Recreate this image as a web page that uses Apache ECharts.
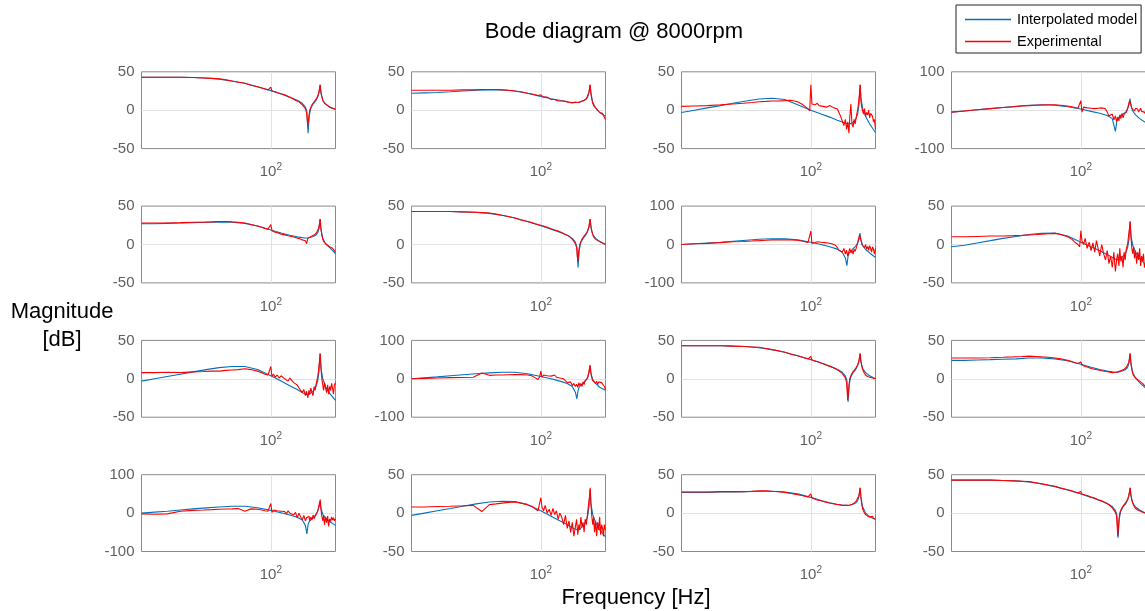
<!DOCTYPE html>
<html>
<head>
<meta charset="utf-8">
<script src="https://cdn.jsdelivr.net/npm/echarts@6/dist/echarts.min.js"></script>
<style>
  html, body { margin: 0; padding: 0; background: #fff; }
  #chart { width: 1145px; height: 611px; }
</style>
</head>
<body>
<div id="chart"></div>
<script>
// Frequency grids [Hz]
const freqModel = [10, 12.6, 15.8, 20, 25, 31.6, 39.8, 50, 63, 79, 100, 120, 140, 160, 175, 185, 190, 194, 198, 203, 212, 222, 230, 236, 240, 244, 252, 265, 285, 316.2];
const freqExp = [10, 12.6, 15.8, 20, 25, 30, 35, 40, 45, 50, 56, 63, 70, 79, 85, 90, 95, 98, 100, 102,
  105, 108, 112, 116, 120, 124, 128, 132, 136, 140, 145, 150, 155, 160, 165, 170, 175, 180, 185, 189,
  193, 197, 200, 204, 208, 212, 216, 220, 225, 230, 234, 238, 241, 244, 248, 252, 256, 260, 265, 270,
  275, 280, 285, 290, 295, 300, 305, 310, 316.2];

// Interpolated model magnitude [dB], one array per transfer path (row, column)
const modelR1C1 = [43,43,43,43,42.5,42,40.5,38,35,30.5,25.5,21,17,13,9,4,-2,-30,-8,2,8,12,17,23,33,22,13,8,4,1];
const modelR1C2 = [22,22.5,23,24,25,26,26.5,26.5,25,22,18,15,13,11,10,10,10,10,10.5,11,12,14,17,23,33,22,10,3,-3,-8];
const modelR1C3 = [-3,0,3,6,9,12,14.5,15.5,14,7,0,-5,-9,-13,-15.5,-17,-17.5,-18,-18,-17.5,-16,-12,-5,8,33,15,2,-8,-18,-29];
const modelR1C4 = [-5,-2,1,4,7,10,13,14,13,9,3,-3,-8,-14,-22,-55,-28,-20,-17,-14,-10,-5,3,15,30,12,-2,-12,-22,-32];
const modelR2C1 = [27,27,27.5,28,28.5,29,29.5,29,27.5,24,19,15,12,10,9,8.5,8.5,8.5,9,9.5,10.5,12,15,21,33,20,8,1,-4,-12];
const modelR2C2 = [43,43,43,43,42.5,42,40.5,38,34.5,30,24.5,20,16,12,8,3,-3,-30,-8,2,8,12,17,23,33,22,13,8,4,0];
const modelR2C3 = [0,2,4,6,8.5,11,13.5,15,15,12,6,0,-6,-12,-20,-35,-55,-30,-22,-17,-11,-5,3,14,30,12,-3,-13,-22,-34];
const modelR2C4 = [-3,-1,2,5,8,10.5,13,14.5,15,11,3,-3,-8,-13,-17,-19,-20,-20,-19.5,-18,-15,-11,-4,8,30,12,-1,-10,-18,-26];
const modelR3C1 = [-3,0,3,6,9,12,14.5,16,16,12,4,-3,-9,-14,-18,-20,-21,-21,-20.5,-19,-16,-11,-3,10,33,14,0,-10,-19,-28];
const modelR3C2 = [0,2.5,5,8,10.5,13,15.5,17,17,13,6,0,-6,-12,-20,-35,-52,-30,-22,-17,-11,-5,4,16,35,14,-2,-12,-22,-30];
const modelR3C3 = [43,43,43,43,42.5,42,40.5,38,34.5,30,25,20.5,16.5,12.5,8.5,3.5,-2,-30,-8,2,8,12,17,23,33,22,13,8,4,0];
const modelR3C4 = [24,24,24.5,25,25.5,26,27,27,26,23.5,19,15,12,10,9,8.5,8.5,8.5,9,9.5,10.5,12,15,21,33,20,8,1,-5,-12];
const modelR4C1 = [0,2.5,5,8,11,13.5,16,18,18,14,7,1,-5,-11,-18,-32,-54,-30,-22,-17,-11,-5,4,16,30,12,-3,-13,-22,-32];
const modelR4C2 = [-3,0,3,6,9,12,14.5,15.5,15,11,3,-4,-10,-15,-19,-21,-22,-22,-21,-20,-17,-12,-4,9,31,12,-2,-12,-22,-31];
const modelR4C3 = [27,27,27,27.5,27.5,28,28.5,28.5,27.5,25,20.5,16.5,13.5,11.5,10.5,10,10,10,10,10.5,11.5,13,16,22,33,20,8,0,-5,-8];
const modelR4C4 = [43,43,43,43,42.5,42,40.5,38,34.5,30,25,20.5,16.5,12.5,8.5,3.5,-2,-32,-8,2,8,12,17,23,33,22,13,8,4,0];

// Measured magnitude [dB] on freqExp
const expR1C1 = [43,43,43,43,42.5, 42,41.5,41,39.5,38, 36.5,35,32.5,30.5,29, 27.5,26.5,26,30,25,
  24.5,24,23,22,21.5, 20.5,20,19,18,17.5, 16,14,13,12.5,11, 9,7,5,2,-3,
  -20,-8,0,4,7, 9,11,13,15,18, 22,28,33,24,18, 13,11,9,8,7, 6,5,5,4,3, 3,2,2,1];
const expR1C2 = [26,26,26,26,26.5, 26.5,27,27,27,26.5, 26,25,24,22,21, 20,19,18.5,20,18,
  17,16,17,15,14, 12,14,13,12,13, 12,11,11.5,10,10, 11,9.5,10,10.5,10,
  10,11,10.5,11,12, 12.5,13,14,15,17, 22,28,33,22,14, 9,6,4,3,1, 0,-2,-3,-1,-5, -4,-7,-5,-12];
const expR1C3 = [5,5.5,6,7,8, 9,10,11,11.5,12, 12,12.5,13,11,8, 5,2,-1,33,8,
  10,7,9,6,8, 5,6,4,5,6, 5,3,4,2,-3, -8,-14,-20,-12,-25,
  -15,-30,-10,8,-18, -22,-12,-18,-8,0, 10,22,33,12,3, -2,-5,2,-8,-3, -6,0,-10,-4,-2, -8,-15,-12,-25];
const expR1C4 = [-5,-2,1,4,7, 9,11,12,13,13.5, 14,14,13,11,9, 7,5,4,25,-5,
  8,4,6,3,5, 7,4,8,5,3, 6,2,4,-5,-15, -20,-10,-25,-15,-30,
  -18,-28,-12,-22,-8, -20,-10,-15,-5,5, 15,25,30,15,5, 0,8,-2,5,0, 3,-5,0,5,-3, -2,-8,-5,-10];
const expR2C1 = [28,28,28,28.5,29, 29,29.5,30,30,29.5, 29,28,26,24,22.5, 21,20,19,26,18,
  17,16,15.5,14,13.5, 13,12.5,12,11.5,11, 10.5,10,9,10,8, 9,6,8,5,1,
  8,9,9.5,10,11, 11.5,12.5,13,15,17, 21,27,33,20,12, 7,4,2,1,0, -1,-2,-3,-2,-4, -5,-6,-8,-10];
const expR2C2 = [43,43,43,43,42.5, 42,41.5,41,39.5,38, 36.5,34.5,32,30,28.5, 27,26,25.5,25,24.5,
  24,23,22.5,21.5,20.5, 19.5,19,18,17.5,16.5, 15.5,14,13,12,11, 9,7,5,1,-4,
  -22,-7,0,4,7, 9,11,13,15,18, 22,28,33,24,17, 13,10,9,7,6, 5,5,4,3,3, 2,2,1,0];
const expR2C3 = [0,2,3,5,7, 8,9,10,11,12, 12,12.5,12,11,9, 7,5,4,35,3,
  8,5,7,4,6, 3,5,8,4,6, 2,5,-2,-8,-15, -12,-20,-10,-25,-15,
  -30,-18,-10,-22,-15, -25,-12,-18,-8,5, 15,25,30,12,0, -5,3,-8,0,-12, -5,-15,-3,-10,-20, -6,-12,-25,-10];
const expR2C4 = [10,10,10.5,11,11, 11.5,12,12.5,13,13.5, 14,14.5,13,10,7, 3,0,-3,18,5,
  0,8,-5,3,-8, 2,-10,5,-5,-15, 0,-12,-20,-8,-25, -15,-30,-10,-35,-20,
  -12,-28,-5,-22,-15, -30,-10,-20,-5,0, 12,22,30,10,-5, -12,-3,-18,-8,-25, -10,-20,-5,-28,-15, -22,-12,-30,-25];
const expR3C1 = [8,8,8.5,8,9, 9.5,10,10,11,11.5, 12,13,12,10,8, 6,5,4,16,3,
  6,2,5,1,4, 3,0,2,-3,1, -2,-5,-3,-8,-12, -10,-18,-14,-22,-16,
  -25,-15,-20,-12,-18, -22,-10,-15,-5,2, 12,24,33,15,0, -8,-15,-5,-12,-18, -8,-20,-10,-15,-6, -12,-20,-8,-5];
const expR3C2 = [0,1,2,3,3.5, 4,15,9,10,10, 10.5,11,11,10,8, 3,-2,5,20,4,
  10,6,8,3,7, 5,10,4,6,2, 4,0,-5,-10,-15, -8,-18,-12,-20,-14,
  -22,-10,-18,-12,-20, -8,-15,-5,-10,2, 15,28,35,14,2, -5,-10,-3,-12,-6, -15,-8,-12,-5,-10, -15,-8,-20,-28];
const expR3C3 = [43,43,43,43,42.5, 42,41.5,41,39.5,38, 36.5,34.5,32,30,28.5, 27,26,25,29,24.5,
  24,23,22.5,21.5,20.5, 19.5,19,18,17,16.5, 15.5,14,13,12,10.5, 9,7,5,1,-5,
  -28,-9,0,4,7, 9,11,13,15,18, 22,28,33,23,16, 12,9,7,5,4, 3,3,2,1,2, 1,0,1,0];
const expR3C4 = [27,27,27,27.5,28, 28.5,29,29.5,29,28.5, 28,27,26,24,22.5, 21,20,19,22,18,
  17,16,15.5,14,13.5, 13,12.5,12,11.5,11, 10.5,10,9.5,9,9, 8.5,8,8,8.5,9,
  9,9.5,10,10.5,11, 11.5,12.5,13,15,17, 21,27,33,20,12, 7,4,2,1,0, -1,-2,-3,-4,-5, -6,-7,-8,-10];
const expR4C1 = [-2,-3,-2,5,7, 8,9,10,10.5,11, 12,5,11,10,8, 6,5,4,25,2,
  8,4,6,2,5, 0,4,-2,6,0, 3,-5,2,-12,0, -10,-18,-6,-20,-12,
  -15,-8,-20,-10,-18, -5,-15,-8,-2,5, 15,28,35,10,-8, -20,-5,-30,-10,-25, -8,-35,-15,-22,-10, -18,-12,-20,-15];
const expR4C2 = [8,8,8.5,9,9.5, 10,2,11,12,13, 14,14.5,13,11,9, 6,3,2,20,8,
  3,10,0,5,-3, 6,-2,3,-8,0, -5,-15,-3,-20,-10, -25,-12,-30,-18,-8,
  -28,-15,-22,-5,-18, -12,-25,-8,-15,0, 12,22,33,12,-5, -15,-5,-25,-10,-30, -12,-22,-5,-28,-15, -20,-30,-15,-22];
const expR4C3 = [27.5,27.5,27.5,28,28, 28,28.5,29,29,28.5, 28,27,25.5,24,23, 22,21,20.5,25,20,
  19,18,17,16.5,16, 15,14.5,14,13.5,13, 12.5,12,11.5,11,11, 10.5,10,10,10,10,
  10,10.5,10.5,11,11.5, 12,13,14,16,18, 22,27,33,20,10, 5,2,0,-2,-3, -4,-2,-5,-3,-6, -4,-7,-5,-8];
const expR4C4 = [43,43,43,43,42.5, 42,41.5,41,39.5,38, 36.5,35,32.5,30.5,29, 27.5,26.5,25.5,28,25,
  24.5,23.5,23,22,21, 20,19.5,18.5,17.5,17, 16,14.5,13.5,12.5,11, 9,7,5,1,-4,
  -30,-9,0,4,7, 9,11,13,15,18, 22,28,33,24,17, 13,10,8,6,5, 4,4,3,2,2, 1,1,0,0];

// Panel order: row by row, left to right
const modelCurves = [modelR1C1, modelR1C2, modelR1C3, modelR1C4, modelR2C1, modelR2C2, modelR2C3, modelR2C4,
  modelR3C1, modelR3C2, modelR3C3, modelR3C4, modelR4C1, modelR4C2, modelR4C3, modelR4C4];
const expCurves = [expR1C1, expR1C2, expR1C3, expR1C4, expR2C1, expR2C2, expR2C3, expR2C4,
  expR3C1, expR3C2, expR3C3, expR3C4, expR4C1, expR4C2, expR4C3, expR4C4];
// Symmetric magnitude limit of each panel [dB]
const yLimits = [50, 50, 50, 100, 50, 50, 100, 50, 50, 100, 50, 50, 100, 50, 50, 50];

const FONT = '"Liberation Sans", Arial, Helvetica, sans-serif';
const TICK_COLOR = '#5f5f5f';
const BLUE = '#0072BD';
const RED = '#FF0000';

const grids = [], xAxes = [], yAxes = [], series = [];
modelCurves.forEach((model, i) => {
  const r = Math.floor(i / 4), c = i % 4;
  const lim = yLimits[i];
  grids.push({
    left: 141.5 + 270 * c, top: 71.8 + 134.3 * r, width: 194, height: 76.8,
    outerBoundsMode: 'none', containLabel: false,
    show: true, borderColor: '#8a8a8a', borderWidth: 1, backgroundColor: 'transparent'
  });
  xAxes.push({
    gridIndex: i, type: 'log', logBase: 10, min: 10, max: 316.2,
    axisLine: { show: false }, axisTick: { show: false },
    splitLine: { show: true, showMinLine: false, showMaxLine: false, lineStyle: { color: '#e2e2e2', width: 1 } },
    axisLabel: {
      margin: 14,
      formatter: v => (Math.abs(v - 100) < 1e-6 ? '{b|10}{s|2}' : ''),
      rich: {
        b: { fontSize: 15, color: TICK_COLOR, fontFamily: FONT },
        s: { fontSize: 10, color: TICK_COLOR, fontFamily: FONT, padding: [0, 0, 9, 0] }
      }
    }
  });
  yAxes.push({
    gridIndex: i, type: 'value', min: -lim, max: lim, interval: lim,
    axisLine: { show: false }, axisTick: { show: false },
    splitLine: { show: true, showMinLine: false, showMaxLine: false, lineStyle: { color: '#e2e2e2', width: 1 } },
    axisLabel: { fontSize: 15, color: TICK_COLOR, fontFamily: FONT, margin: 7 }
  });
  series.push({
    type: 'line', name: 'Interpolated model', xAxisIndex: i, yAxisIndex: i,
    data: freqModel.map((f, k) => [f, model[k]]),
    symbol: 'none', silent: true,
    lineStyle: { color: BLUE, width: 1.1 }, itemStyle: { color: BLUE }
  });
  series.push({
    type: 'line', name: 'Experimental', xAxisIndex: i, yAxisIndex: i,
    data: freqExp.map((f, k) => [f, expCurves[i][k]]),
    symbol: 'none', silent: true,
    lineStyle: { color: RED, width: 1.1 }, itemStyle: { color: RED }
  });
});

const chart = echarts.init(document.getElementById('chart'), null, { renderer: 'canvas' });
chart.setOption({
  animation: false,
  backgroundColor: '#fff',
  grid: grids,
  xAxis: xAxes,
  yAxis: yAxes,
  series: series,
  legend: {
    data: [
      { name: 'Interpolated model', icon: 'rect', itemStyle: { color: BLUE, borderWidth: 0 } },
      { name: 'Experimental', icon: 'rect', itemStyle: { color: RED, borderWidth: 0 } }
    ],
    left: 956, top: 5, orient: 'vertical',
    itemWidth: 46, itemHeight: 1.5, itemGap: 5,
    padding: [6, 4, 3, 9],
    borderColor: '#222', borderWidth: 1, backgroundColor: '#fff',
    textStyle: { fontSize: 14.5, color: '#000', fontFamily: FONT, lineHeight: 17, padding: [0, 0, 0, 1] }
  },
  graphic: [
    { type: 'text', x: 614, y: 32, style: { text: 'Bode diagram @ 8000rpm', font: '22px ' + FONT, fill: '#000', textAlign: 'center', textVerticalAlign: 'middle' } },
    { type: 'text', x: 62, y: 312, style: { text: 'Magnitude', font: '22px ' + FONT, fill: '#000', textAlign: 'center', textVerticalAlign: 'middle' } },
    { type: 'text', x: 62, y: 340, style: { text: '[dB]', font: '22px ' + FONT, fill: '#000', textAlign: 'center', textVerticalAlign: 'middle' } },
    { type: 'text', x: 636, y: 598, style: { text: 'Frequency [Hz]', font: '22px ' + FONT, fill: '#000', textAlign: 'center', textVerticalAlign: 'middle' } }
  ]
});
</script>
</body>
</html>
